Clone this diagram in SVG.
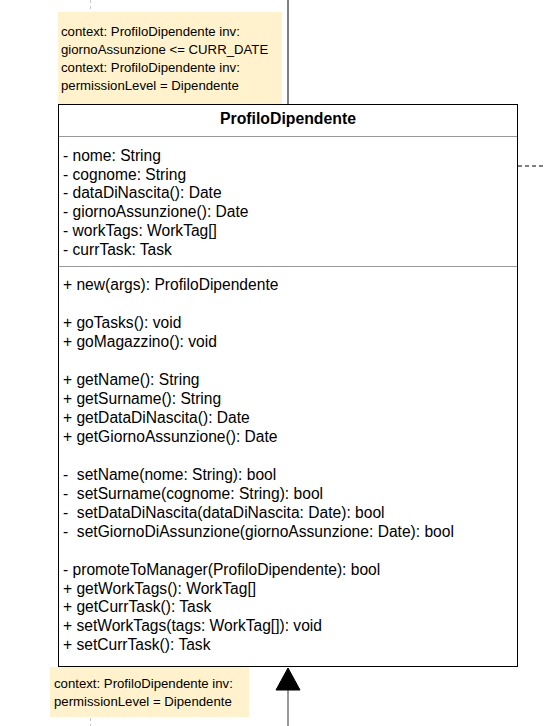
<svg xmlns="http://www.w3.org/2000/svg" width="545" height="726" viewBox="0 0 545 726">
<style>
.t{font-family:"Liberation Sans",Arial,sans-serif;font-size:15.6px;fill:#000}
.n{font-family:"Liberation Sans",Arial,sans-serif;font-size:13.2px;fill:#000}
.b{font-weight:bold;font-size:15.8px}
.note{fill:#fff2cc;stroke:none}
</style>
<rect width="545" height="726" fill="#fff"/>
<g id="connectors" fill="none">
<line x1="90.5" y1="0" x2="90.5" y2="12" stroke="#c8c8c8" stroke-dasharray="3 3"/>
<line x1="90.5" y1="718" x2="90.5" y2="726" stroke="#c8c8c8" stroke-dasharray="3 3"/>
<line x1="288" y1="0" x2="288" y2="104" stroke="#000"/>
<line x1="518" y1="166" x2="545" y2="166" stroke="#000" stroke-dasharray="4 3"/>
<line x1="288" y1="690" x2="288" y2="726" stroke="#333"/>
<polygon points="288,668 276,690 300,690" fill="#000" stroke="#000"/>
</g>
<g id="note1">
<rect class="note" x="58" y="12" width="224" height="92"/>
<text class="n" x="61" y="36">context: ProfiloDipendente inv:</text>
<text class="n" x="61" y="54">giornoAssunzione &lt;= CURR_DATE</text>
<text class="n" x="61" y="72">context: ProfiloDipendente inv:</text>
<text class="n" x="61" y="90">permissionLevel = Dipendente</text>
</g>
<g id="ProfiloDipendente">
<rect x="58.5" y="104.5" width="459" height="562" fill="#fff" stroke="#000"/>
<line x1="59" y1="136.5" x2="517" y2="136.5" stroke="#999"/>
<line x1="59" y1="266.5" x2="517" y2="266.5" stroke="#999"/>
<text class="t b" x="288" y="124" text-anchor="middle">ProfiloDipendente</text>
<text class="t" x="63" y="160.5">- nome: String</text>
<text class="t" x="63" y="179.5">- cognome: String</text>
<text class="t" x="63" y="197.5">- dataDiNascita(): Date</text>
<text class="t" x="63" y="216.5">- giornoAssunzione(): Date</text>
<text class="t" x="63" y="235.5">- workTags: WorkTag[]</text>
<text class="t" x="63" y="254.5">- currTask: Task</text>
<text class="t" x="63" y="289.5">+ new(args): ProfiloDipendente</text>
<text class="t" x="63" y="327.5">+ goTasks(): void</text>
<text class="t" x="63" y="346.5">+ goMagazzino(): void</text>
<text class="t" x="63" y="384.5">+ getName(): String</text>
<text class="t" x="63" y="403.5">+ getSurname(): String</text>
<text class="t" x="63" y="422.5">+ getDataDiNascita(): Date</text>
<text class="t" x="63" y="441.5">+ getGiornoAssunzione(): Date</text>
<text class="t" x="63" y="479.5" xml:space="preserve">-  setName(nome: String): bool</text>
<text class="t" x="63" y="498.5" xml:space="preserve">-  setSurname(cognome: String): bool</text>
<text class="t" x="63" y="517.5" xml:space="preserve">-  setDataDiNascita(dataDiNascita: Date): bool</text>
<text class="t" x="63" y="536.5" xml:space="preserve">-  setGiornoDiAssunzione(giornoAssunzione: Date): bool</text>
<text class="t" x="63" y="574.5">- promoteToManager(ProfiloDipendente): bool</text>
<text class="t" x="63" y="593.5">+ getWorkTags(): WorkTag[]</text>
<text class="t" x="63" y="611.5">+ getCurrTask(): Task</text>
<text class="t" x="63" y="630.5">+ setWorkTags(tags: WorkTag[]): void</text>
<text class="t" x="63" y="649.5">+ setCurrTask(): Task</text>
</g>
<g id="note2">
<rect class="note" x="50" y="667" width="199" height="50"/>
<text class="n" x="54" y="687.5">context: ProfiloDipendente inv:</text>
<text class="n" x="54" y="705.5">permissionLevel = Dipendente</text>
</g>
</svg>
